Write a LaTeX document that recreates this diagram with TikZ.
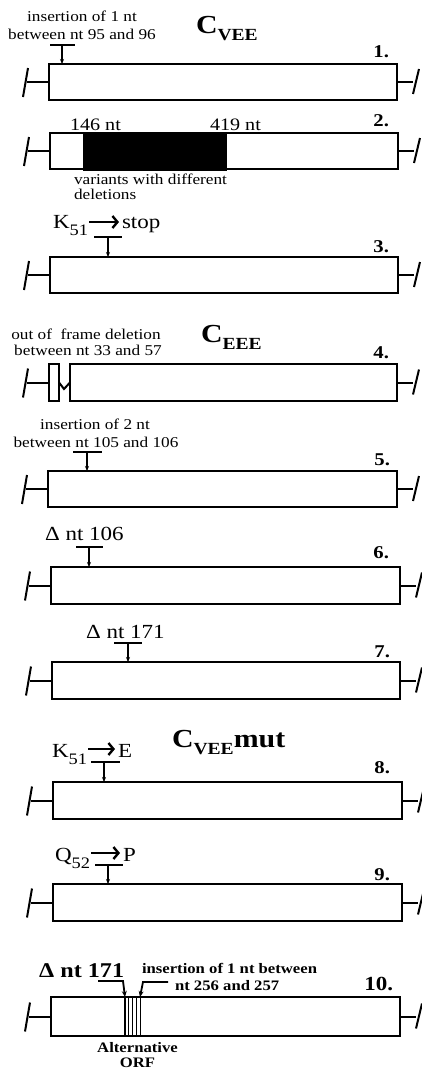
\documentclass[tikz,border=0pt]{standalone}
\usepackage{fontspec}
\setmainfont{Liberation Serif}[FakeStretch=1.15]
\usetikzlibrary{arrows.meta,calc}

\tikzset{
  genebox/.style={draw, line width=2.4pt, fill=white, inner sep=0pt, outer sep=0pt, anchor=north west},
  lead/.style={line width=2pt},
  tbar/.style={line width=2.8pt},
  pin/.style={line width=1.2pt, -{Stealth[length=5pt,width=4pt]}},
  bentpin/.style={line width=1.8pt, -{Stealth[length=6pt,width=5pt]}},
  subst/.style={line width=2.8pt, -{Straight Barb[length=5pt,width=12pt,line width=2.4pt]}},
  orf/.style={line width=1.8pt},
  lbl/.style={inner sep=0pt, outer sep=0pt, font=\fontsize{15}{18}\selectfont},
  big/.style={inner sep=0pt, outer sep=0pt, font=\fontsize{20}{22}\selectfont},
  num/.style={inner sep=0pt, outer sep=0pt, anchor=base east, font=\fontsize{18}{20}\selectfont\bfseries},
  title/.style={inner sep=0pt, outer sep=0pt, anchor=base west, font=\fontsize{26}{28}\selectfont\bfseries},
  boldlbl/.style={inner sep=0pt, outer sep=0pt, font=\fontsize{14.5}{17}\selectfont\bfseries},
}

% subscripts of residue names and of construct names
\newcommand\ressub[1]{\raisebox{-7pt}{\fontsize{16}{16}\selectfont #1}}
\newcommand\namesub[1]{\raisebox{-7pt}{\fontsize{17}{17}\selectfont #1}}

% reading frame box with its two flanking terminal stubs
\newcommand\lterm[1]{%
  \draw[lead] (#1.west) -- ++(-22,0) coordinate (#1-l);
  \draw[lead] ($(#1-l)+(-4,15)$) -- ($(#1-l)+(1,-14)$);}
\newcommand\rterm[1]{%
  \draw[lead] (#1.east) -- ++(16,0) coordinate (#1-r);
  \draw[lead] ($(#1-r)+(0,12)$) -- ($(#1-r)+(6,-13)$);}
\newcommand\orfbox[5]{%
  \node[genebox, minimum width={(#4-#2)*1pt}, minimum height={(#5-#3)*1pt}] (#1) at (#2,#3) {};
  \lterm{#1}\rterm{#1}}

\begin{document}
\begin{tikzpicture}[x=1pt,y=-1pt]
\useasboundingbox (0,0) rectangle (422,1068);
\clip (0,0) rectangle (422,1068);

% ---------- C_VEE ----------
\node[title] (tvee) at (196,33) {C\namesub{VEE}};

% 1
\node[lbl, anchor=base] (ins1a) at (82,21) {insertion of 1 nt};
\node[lbl, anchor=base] (ins1b) at (82,39) {between nt 95 and 96};
\orfbox{b1}{49}{64}{397}{100}
\draw[tbar] (50,45) -- (75,45);
\coordinate (m1) at (62,45);
\draw[pin] (m1) -- (m1 |- b1.north);
\node[num] (n1) at (389,57) {1.};

% 2
\orfbox{b2}{50}{133}{398}{169}
\node[draw, fill=black, line width=2.4pt, inner sep=0pt, anchor=north west,
      minimum width=142pt, minimum height=36pt] (del2) at (83,133) {};
\node[lbl, anchor=base west, font=\fontsize{17.5}{20}\selectfont] (s146) at (70,130) {146 nt};
\node[lbl, anchor=base west, font=\fontsize{17.5}{20}\selectfont] (s419) at (210,130) {419 nt};
\node[lbl, anchor=base west] (var2a) at (74,184) {variants with different};
\node[lbl, anchor=base west] (var2b) at (74,199) {deletions};
\node[num] (n2) at (389,126) {2.};

% 3
\node[big, anchor=base west] (k3) at (53,228) {K\ressub{51}};
\node[big, anchor=base west] (stop3) at (122,228) {stop};
\draw[subst] ([xshift=1pt,yshift=6pt]k3.base east) -- ([xshift=-3pt,yshift=6pt]stop3.base west);
\orfbox{b3}{50}{257}{398}{293}
\draw[tbar] (94,237) -- (122,237);
\coordinate (m3) at (108,237);
\draw[pin] (m3) -- (m3 |- b3.north);
\node[num] (n3) at (389,252) {3.};

% ---------- C_EEE ----------
\node[title] (teee) at (201,342) {C\namesub{EEE}};

% 4
\node[lbl, anchor=base] (del4a) at (86,339) {out of\ \ frame deletion};
\node[lbl, anchor=base] (del4b) at (88,355) {between nt 33 and 57};
\node[genebox, minimum width=10pt, minimum height=37pt] (b4s) at (49,364) {};
\node[genebox, minimum width=327pt, minimum height=37pt] (b4) at (70,364) {};
\lterm{b4s}\rterm{b4}
\draw[lead] (b4s.east) -- (64,389) -- (b4.west);
\node[num] (n4) at (389,358) {4.};

% 5
\node[lbl, anchor=base] (ins5a) at (95,429) {insertion of 2 nt};
\node[lbl, anchor=base] (ins5b) at (96,447) {between nt 105 and 106};
\orfbox{b5}{48}{471}{397}{507}
\draw[tbar] (73,452) -- (102,452);
\coordinate (m5) at (87,452);
\draw[pin] (m5) -- (m5 |- b5.north);
\node[num] (n5) at (390,465) {5.};

% 6
\node[big, anchor=base west] (d6) at (45,540) {Δ nt 106};
\orfbox{b6}{51}{567}{400}{604}
\draw[tbar] (76,547) -- (103,547);
\coordinate (m6) at (89,547);
\draw[pin] (m6) -- (m6 |- b6.north);
\node[num] (n6) at (389,558) {6.};

% 7
\node[big, anchor=base west] (d7) at (86,638) {Δ nt 171};
\orfbox{b7}{52}{662}{400}{699}
\draw[tbar] (114,643) -- (142,643);
\coordinate (m7) at (128,643);
\draw[pin] (m7) -- (m7 |- b7.north);
\node[num] (n7) at (390,657) {7.};

% ---------- C_VEE mut ----------
\node[title] (tmut) at (172,747) {C\namesub{VEE}mut};

% 8
\node[big, anchor=base west] (k8) at (52,757) {K\ressub{51}};
\node[big, anchor=base west] (e8) at (118,757) {E};
\draw[subst] ([xshift=1pt,yshift=8pt]k8.base east) -- ([xshift=-3pt,yshift=8pt]e8.base west);
\orfbox{b8}{53}{782}{402}{819}
\draw[tbar] (91,762) -- (120,762);
\coordinate (m8) at (104,762);
\draw[pin] (m8) -- (m8 |- b8.north);
\node[num] (n8) at (390,773) {8.};

% 9
\node[big, anchor=base west] (q9) at (55,861) {Q\ressub{52}};
\node[big, anchor=base west] (p9) at (123,861) {P};
\draw[subst] ([xshift=1pt,yshift=8pt]q9.base east) -- ([xshift=-3pt,yshift=8pt]p9.base west);
\orfbox{b9}{53}{884}{402}{921}
\draw[tbar] (95,865) -- (123,865);
\coordinate (m9) at (108,865);
\draw[pin] (m9) -- (m9 |- b9.north);
\node[num] (n9) at (390,880) {9.};

% 10
\node[inner sep=0pt, anchor=base west, font=\fontsize{21}{24}\selectfont\bfseries] (d10) at (39,977) {Δ nt 171};
\node[boldlbl, anchor=base west] (ins10a) at (142,973) {insertion of 1 nt between};
\node[boldlbl, anchor=base west] (ins10b) at (175,990) {nt 256 and 257};
\orfbox{b10}{51}{997}{400}{1036}
\foreach \x in {125,128.5,132.5,136.5,140.5}
  \draw[orf] (\x,0 |- b10.north) -- (\x,0 |- b10.south);
\coordinate (c10a) at (98,981);
\coordinate (c10b) at (168,982);
\draw[bentpin] (c10a) -- (123,981) -- (125,0 |- b10.north);
\draw[bentpin] (c10b) -- (143,982) -- (140,0 |- b10.north);
\node[num, font=\fontsize{20}{22}\selectfont\bfseries] (n10) at (393,990) {10.};
\node[boldlbl, anchor=base] (alt10a) at (137.5,1052) {Alternative};
\node[boldlbl, anchor=base] (alt10b) at (137.5,1067) {ORF};
\end{tikzpicture}
\end{document}
